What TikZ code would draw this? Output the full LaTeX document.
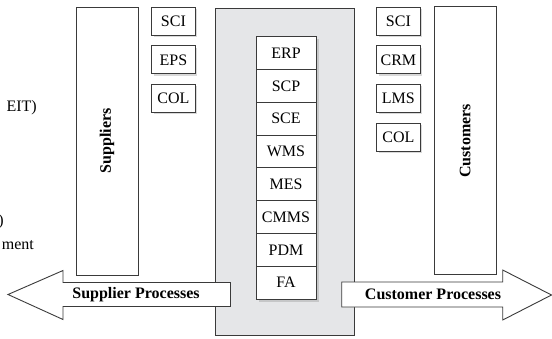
\documentclass[tikz,border=0pt]{standalone}
\usepackage{fontspec}
\setmainfont{Liberation Serif}
\usepackage{tikz}
\usetikzlibrary{positioning,shadows}

\definecolor{panelgray}{HTML}{E5E6E8}
\definecolor{linegray}{HTML}{3A3A3A}

\begin{document}
\begin{tikzpicture}[x=1pt,y=-1pt,font=\fontsize{16}{18}\selectfont]
    \tikzstyle{side box}=[draw=linegray,line width=.9pt,fill=white,minimum width=62pt,minimum height=268pt,inner sep=0,outer sep=0]
    \tikzstyle{app box}=[draw=linegray,line width=.9pt,fill=white,minimum width=43.5pt,minimum height=28pt,inner sep=0,
        drop shadow={shadow xshift=2pt,shadow yshift=-2pt,opacity=.3}]
    \tikzstyle{module}=[draw=linegray,line width=.9pt,fill=white,minimum width=60pt,minimum height=32.8pt,inner sep=0,outer sep=0,
        drop shadow={shadow xshift=2.5pt,shadow yshift=-2.5pt,opacity=.3}]
    \tikzstyle{process arrow}=[draw=linegray,line width=.9pt,fill=white]
    \tikzstyle{label text}=[font=\fontsize{16}{18}\selectfont\bfseries]
    \tikzstyle{cut text}=[inner sep=0]

    \useasboundingbox (0,0) rectangle (552,338);

    \node[cut text,anchor=east] (eit) at (37,108) {EIT)};
    \node[cut text,anchor=east] (paren) at (4,222) {)};
    \node[cut text,anchor=east] (ment) at (34,245) {ment};

    \node[draw=linegray,line width=.9pt,fill=panelgray,minimum width=138.5pt,minimum height=327.5pt,inner sep=0] (enterprise) at (284.9,171.9) {};

    \node[side box] (suppliers) at (107,141) {};
    \node[label text,rotate=90] at (suppliers) {Suppliers};
    \node[side box] (customers) at (465.2,140.8) {};
    \node[label text,rotate=90] at (customers) {Customers};

    \node[app box] (sci1) at (173.4,21.2) {SCI};
    \node[app box,below=9.7pt of sci1] (eps) {EPS};
    \node[app box,below=9.7pt of eps] (col1) {COL};

    \node[app box] (sci2) at (398.4,21.2) {SCI};
    \node[app box,below=9.7pt of sci2] (crm) {CRM};
    \node[app box,below=9.7pt of crm] (lms) {LMS};
    \node[app box,below=9.7pt of lms] (col2) {COL};

    \node[module] (erp) at (286,53.1) {ERP};
    \node[module,below=0pt of erp] (scp) {SCP};
    \node[module,below=0pt of scp] (sce) {SCE};
    \node[module,below=0pt of sce] (wms) {WMS};
    \node[module,below=0pt of wms] (mes) {MES};
    \node[module,below=0pt of mes] (cmms) {CMMS};
    \node[module,below=0pt of cmms] (pdm) {PDM};
    \node[module,below=0pt of pdm] (fa) {FA};

    \draw[process arrow] (230.5,282.5) -- (63,282.5) -- (63,270.5) -- (8,294.5) -- (63,319.5) -- (63,306.5) -- (230.5,306.5) -- cycle;
    \node[label text] (supplierproc) at (136,294.5) {Supplier Processes};
    \draw[process arrow] (341.7,282) -- (502.7,282) -- (502.7,270) -- (551.5,295) -- (502.7,320) -- (502.7,307) -- (341.7,307) -- cycle;
    \node[label text] (customerproc) at (433,294.5) {Customer Processes};
\end{tikzpicture}
\end{document}
